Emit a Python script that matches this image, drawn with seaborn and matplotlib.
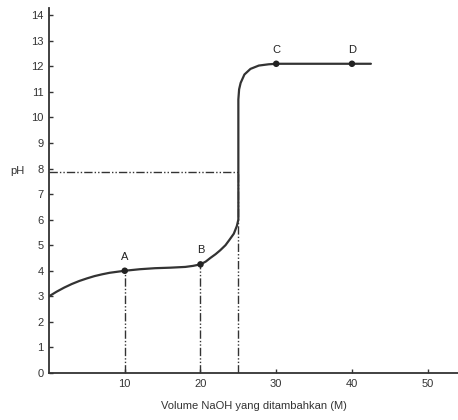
import matplotlib
matplotlib.use("Agg")
import matplotlib.pyplot as plt
import seaborn as sns
import pandas as pd

# Titration curve
volume = [0, 1, 2, 3, 4, 5, 6, 7, 8, 9, 10, 12, 14, 16, 18, 19, 20, 20.7, 21.3, 22, 22.6, 23.3, 23.8, 24.4, 24.8, 25,
          25, 25.1, 25.3, 25.8, 26.6, 27.7, 29, 30, 40, 42.5]
ph     = [3.0, 3.18, 3.34, 3.48, 3.6, 3.7, 3.79, 3.86, 3.92, 3.96, 4.0, 4.06, 4.1, 4.12, 4.15, 4.19, 4.25,
          4.36, 4.5, 4.65, 4.8, 5.0, 5.2, 5.45, 5.75, 6.0,
          10.7, 11.1, 11.35, 11.68, 11.9, 12.03, 12.08, 12.1, 12.1, 12.1]

point_labels = ["A", "B", "C", "D"]
point_x = [10, 20, 30, 40]
point_y = [4.0, 4.25, 12.1, 12.1]

equiv_x = 25
equiv_ph = 7.85

x_ticks = [10, 20, 30, 40, 50]
y_ticks = list(range(0, 15))

sns.set_style("ticks")
plt.rcParams['font.family'] = ['Liberation Sans', 'DejaVu Sans']

fig = plt.figure(figsize=(4.58, 4.20), dpi=100)
ax = fig.add_axes([0.107, 0.112, 0.893, 0.87])

dash_style = (0, (6, 1.5, 1, 1.5, 1, 1.5))
col = "#333333"

# guide lines
for px, py in zip(point_x[:2], point_y[:2]):
    ax.plot([px, px], [0, py], color=col, lw=1.0, linestyle=dash_style)
ax.plot([equiv_x, equiv_x], [0, equiv_ph], color=col, lw=1.0, linestyle=dash_style)
ax.plot([0, equiv_x], [equiv_ph, equiv_ph], color=col, lw=1.0, linestyle=dash_style)

df = pd.DataFrame({"v": volume, "ph": ph})
sns.lineplot(data=df, x="v", y="ph", sort=False, estimator=None, color=col, lw=1.6, ax=ax)

pts = pd.DataFrame({"v": point_x, "ph": point_y})
sns.scatterplot(data=pts, x="v", y="ph", color="#222222", s=22, edgecolor="none", ax=ax, zorder=5)
for lab, px, py in zip(point_labels, point_x, point_y):
    ax.text(px, py + 0.35, lab, ha="center", va="bottom", fontsize=8, color="#222222")

ax.set_xlim(0, 54)
ax.set_ylim(0, 14.3)
ax.set_xticks(x_ticks)
ax.set_yticks(y_ticks)
ax.tick_params(direction="in", length=3, width=1, labelsize=8, colors="#333333", pad=4)
for s in ["top", "right"]:
    ax.spines[s].set_visible(False)
for s in ["left", "bottom"]:
    ax.spines[s].set_linewidth(1.3)
    ax.spines[s].set_color("#333333")

ax.set_xlabel("Volume NaOH yang ditambahkan (M)", fontsize=8, color="#333333", labelpad=9)
ax.set_ylabel("pH", rotation=0, fontsize=8, color="#333333", va="center")
ax.yaxis.set_label_coords(-0.077, 7.9 / 14.3)

fig.savefig("out.png", dpi=100)
